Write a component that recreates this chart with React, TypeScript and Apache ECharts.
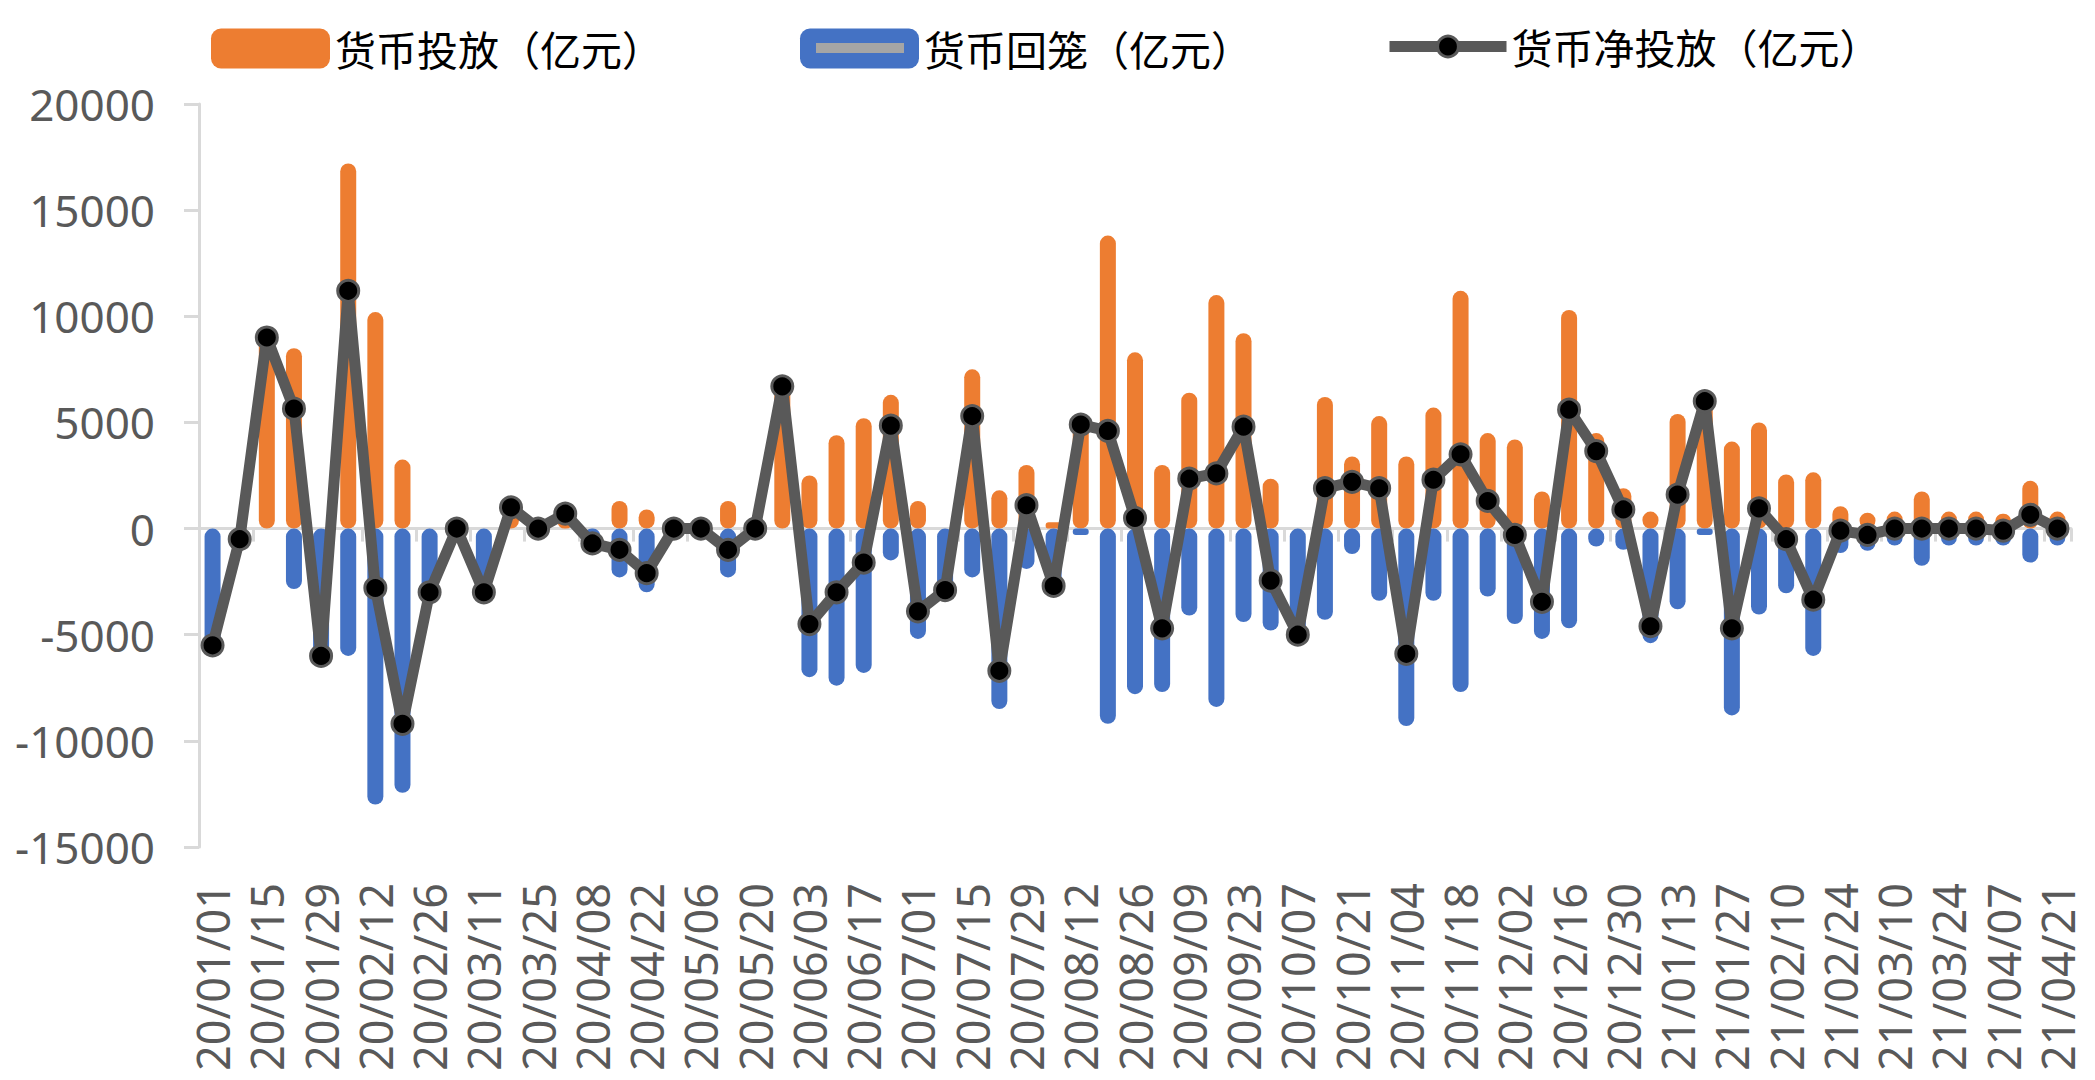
import React, { useEffect, useRef } from "react";
import * as echarts from "echarts";

const categories = [
  "20/01/01", "20/01/08", "20/01/15", "20/01/22", "20/01/29", "20/02/05", "20/02/12", "20/02/19", "20/02/26",
  "20/03/04", "20/03/11", "20/03/18", "20/03/25", "20/04/01", "20/04/08", "20/04/15", "20/04/22", "20/04/29",
  "20/05/06", "20/05/13", "20/05/20", "20/05/27", "20/06/03", "20/06/10", "20/06/17", "20/06/24", "20/07/01",
  "20/07/08", "20/07/15", "20/07/22", "20/07/29", "20/08/05", "20/08/12", "20/08/19", "20/08/26", "20/09/02",
  "20/09/09", "20/09/16", "20/09/23", "20/09/30", "20/10/07", "20/10/14", "20/10/21", "20/10/28", "20/11/04",
  "20/11/11", "20/11/18", "20/11/25", "20/12/02", "20/12/09", "20/12/16", "20/12/23", "20/12/30", "21/01/06",
  "21/01/13", "21/01/20", "21/01/27", "21/02/03", "21/02/10", "21/02/17", "21/02/24", "21/03/03", "21/03/10",
  "21/03/17", "21/03/24", "21/03/31", "21/04/07", "21/04/14", "21/04/21",
];

// 货币投放（亿元）
const injection = [
  0, 0, 9000, 8500, 0, 17200, 10200, 3250, 0,
  0, 0, 1000, 0, 700, 0, 1300, 900, 0,
  0, 1300, 0, 6700, 2500, 4400, 5200, 6300, 1300,
  0, 7500, 1800, 3000, 300, 5200, 13800, 8300, 3000,
  6400, 11000, 9200, 2350, 0, 6200, 3400, 5300, 3400,
  5700, 11200, 4500, 4200, 1750, 10300, 4500, 1900, 800,
  5400, 6300, 4100, 5000, 2550, 2650, 1050, 750, 800,
  1750, 800, 800, 700, 2250, 800,
];

// 货币回笼（亿元）
const withdrawal = [
  -5500, -500, 0, -2850, -6000, -6000, -13000, -12450, -3000,
  0, -3000, 0, 0, 0, -700, -2300, -3000, 0,
  0, -2300, 0, 0, -7000, -7400, -6800, -1500, -5200,
  -2900, -2300, -8500, -1900, -3000, -300, -9200, -7800, -7700,
  -4100, -8400, -4400, -4800, -5000, -4300, -1200, -3400, -9300,
  -3400, -7700, -3200, -4500, -5200, -4700, -850, -1000, -5400,
  -3800, -300, -8800, -4050, -3050, -6000, -1150, -1050, -800,
  -1750, -800, -800, -800, -1600, -800,
];

// 货币净投放（亿元）
const netInjection = [
  -5500, -500, 9000, 5650, -6000, 11200, -2800, -9200, -3000,
  0, -3000, 1000, 0, 700, -700, -1000, -2100, 0,
  0, -1000, 0, 6700, -4500, -3000, -1600, 4850, -3900,
  -2900, 5300, -6700, 1100, -2700, 4900, 4600, 500, -4700,
  2350, 2600, 4800, -2450, -5000, 1900, 2200, 1900, -5900,
  2300, 3500, 1300, -300, -3450, 5600, 3650, 900, -4600,
  1600, 6000, -4700, 950, -500, -3350, -100, -300, 0,
  0, 0, 0, -100, 650, 0,
];

const seriesNames = ["货币投放（亿元）", "货币回笼（亿元）", "货币净投放（亿元）"];

const ORANGE = "#ED7D31";
const BLUE = "#4472C4";
const LINE = "#595959";
const AXIS = "#D9D9D9";
const LABEL = "#595959";
const FONT = "'Noto Sans', 'Noto Sans CJK SC', sans-serif";
const CJK = "'Noto Sans CJK SC', 'Noto Sans', sans-serif";

export default function App() {
  const ref = useRef<HTMLDivElement>(null);

  useEffect(() => {
    if (!ref.current) return;
    const chart = echarts.init(ref.current, undefined, { renderer: "svg" });
    const legendText = { fontSize: 41, color: "#000000", fontFamily: CJK };
    const option: any = {
      animation: false,
      backgroundColor: "#ffffff",
      textStyle: { fontFamily: FONT },
      grid: { left: 199, right: 24, top: 104, bottom: 233, containLabel: false },
      legend: [
        {
          left: 211, top: 28, padding: 0, itemWidth: 119, itemHeight: 40, icon: "roundRect",
          selectedMode: false, data: [seriesNames[0]], textStyle: legendText,
        },
        {
          left: 800, top: 28, padding: 0, itemWidth: 119, itemHeight: 40, icon: "roundRect",
          selectedMode: false, data: [seriesNames[1]], textStyle: legendText,
        },
        {
          left: 1384, top: 26, padding: 0, itemWidth: 117, itemHeight: 26,
          selectedMode: false, data: [seriesNames[2]], textStyle: legendText,
          lineStyle: { width: 11, color: LINE },
          itemStyle: { color: "#000000", borderColor: LINE, borderWidth: 3 },
        },
      ],
      graphic: [
        {
          type: "rect", left: 816, top: 43, z: 100,
          shape: { width: 88, height: 10 },
          style: { fill: "#A5A5A5" },
        },
      ],
      xAxis: [
        {
          type: "category",
          data: categories,
          position: "bottom",
          boundaryGap: true,
          axisLine: { show: false, onZero: false },
          axisTick: { show: false },
          axisLabel: {
            interval: 1, rotate: 90, margin: 36, fontSize: 45, color: LABEL, fontFamily: FONT,
          },
          splitLine: { show: false },
        },
        {
          type: "category",
          data: categories,
          position: "bottom",
          boundaryGap: true,
          axisLine: { show: true, onZero: true, lineStyle: { color: AXIS, width: 3 } },
          axisTick: { show: true, interval: 1, length: 13, lineStyle: { color: AXIS, width: 3 } },
          axisLabel: { show: false },
          splitLine: { show: false },
        },
      ],
      yAxis: {
        type: "value",
        min: -15000,
        max: 20000,
        interval: 5000,
        axisLine: { show: true, lineStyle: { color: AXIS, width: 3 } },
        axisTick: { show: true, length: 15, lineStyle: { color: AXIS, width: 3 } },
        splitLine: { show: false },
        axisLabel: {
          fontSize: 44, color: LABEL, margin: 44, fontFamily: FONT,
          formatter: (v: number) => String(v),
        },
      },
      series: [
        {
          name: seriesNames[0],
          type: "bar",
          xAxisIndex: 0,
          data: injection,
          barWidth: 16,
          barGap: "-100%",
          itemStyle: { color: ORANGE, borderRadius: 8 },
        },
        {
          name: seriesNames[1],
          type: "bar",
          xAxisIndex: 0,
          data: withdrawal,
          barWidth: 16,
          barGap: "-100%",
          itemStyle: { color: BLUE, borderRadius: 8 },
        },
        {
          name: seriesNames[2],
          type: "line",
          xAxisIndex: 0,
          data: netInjection,
          symbol: "circle",
          symbolSize: 21,
          showAllSymbol: true,
          z: 5,
          lineStyle: { color: LINE, width: 11 },
          itemStyle: { color: "#000000", borderColor: LINE, borderWidth: 3 },
        },
      ],
    };
    chart.setOption(option);
    return () => {
      chart.dispose();
    };
  }, []);

  return (
    <div
      ref={ref}
      style={{ position: "fixed", left: 0, top: 0, width: 2095, height: 1080, background: "#fff" }}
    />
  );
}
